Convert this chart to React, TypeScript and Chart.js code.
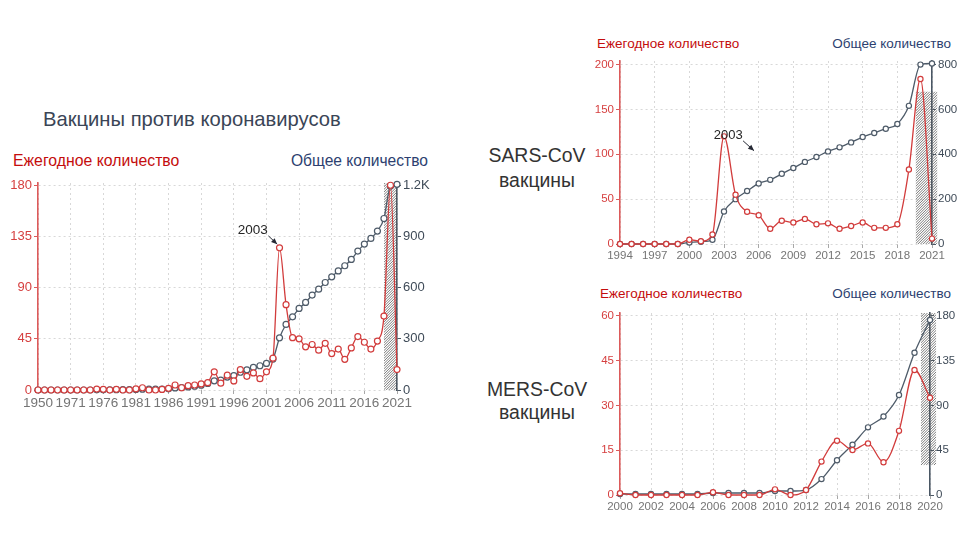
import React, { useEffect, useRef } from 'react';
import { Chart, registerables } from 'chart.js';

Chart.register(...registerables);

// ---------- data ----------
const allYears = ['1950', '1967', '1968', '1969', '1970', '1971', '1972', '1973', '1974', '1975', '1976', '1977', '1978', '1979', '1980', '1981', '1982', '1983', '1984', '1985', '1986', '1987', '1988', '1989', '1990', '1991', '1992', '1993', '1994', '1995', '1996', '1997', '1998', '1999', '2000', '2001', '2002', '2003', '2004', '2005', '2006', '2007', '2008', '2009', '2010', '2011', '2012', '2013', '2014', '2015', '2016', '2017', '2018', '2019', '2020', '2021'];
const allAnnual = [0, 0, 0, 0, 0, 0, 0, 0, 0, 0.8, 0.6, 0, 0.6, 0, 0, 1, 2, 0, 0, 0.5, 1.5, 4.4, 2, 3.8, 4.4, 5.3, 6.4, 16, 6, 13, 8, 18, 12, 15, 10, 16, 28, 125, 75, 46, 45, 38, 40, 35, 41, 32, 36, 27, 37, 47, 42, 36, 43, 65, 180, 18];
const allTotal = [0, 0, 0, 0, 0, 0, 0, 0, 0, 1, 1, 1, 2, 2, 2, 3, 5, 5, 5, 6, 7, 12, 14, 18, 22, 28, 38, 54, 58, 76, 84, 104, 118, 132, 142, 156, 181, 306, 384, 429, 478, 513, 556, 591, 630, 663, 698, 728, 765, 814, 855, 888, 931, 1005, 1195, 1205];
const allLeftTicks = [0, 45, 90, 135, 180];
const allRightTicks = [0, 300, 600, 900, 1200];

const sarsYears = ['1994', '1995', '1996', '1997', '1998', '1999', '2000', '2001', '2002', '2003', '2004', '2005', '2006', '2007', '2008', '2009', '2010', '2011', '2012', '2013', '2014', '2015', '2016', '2017', '2018', '2019', '2020', '2021'];
const sarsAnnual = [0, 0, 0, 0, 0, 0, 4.8, 3, 10.7, 120, 55, 36, 32, 17, 26, 24, 28, 22, 23, 17, 20, 24, 18, 18, 22, 83, 184, 6];
const sarsTotal = [0, 0, 0, 0, 0, 0, 7, 10, 19, 145, 200, 236, 270, 286, 313, 339, 366, 388, 413, 431, 453, 477, 495, 514, 535, 616, 800, 805];
const sarsLeftTicks = [0, 50, 100, 150, 200];
const sarsRightTicks = [0, 200, 400, 600, 800];

const mersYears = ['2000', '2001', '2002', '2003', '2004', '2005', '2006', '2007', '2008', '2009', '2010', '2011', '2012', '2013', '2014', '2015', '2016', '2017', '2018', '2019', '2020'];
const mersAnnual = [0.6, 0, 0, 0, 0, 0, 0.9, 0, 0, 0, 1.9, 0, 1.7, 11.2, 18.2, 15.1, 17.3, 11, 21.5, 41.9, 32.6];
const mersTotal = [1, 1, 1, 1, 1, 1, 2, 2, 2, 2, 4, 4, 5, 16, 35, 50.6, 68, 79, 100.6, 143, 176];
const mersLeftTicks = [0, 15, 30, 45, 60];
const mersRightTicks = [0, 45, 90, 135, 180];

// ---------- styles ----------
const FONT = "'Liberation Sans', Arial, Helvetica, sans-serif";
const RED_LINE = '#d23c3c';
const RED_AXIS = '#dc5a5a';
const RED_TICK = '#d64040';
const RED_TEXT = '#c40d0d';
const SLATE_LINE = '#4e5b69';
const SLATE_AXIS = '#4a5764';
const SLATE_TICK = '#3f4b58';
const NAVY_TEXT = '#2d3f70';
const GRID = '#d8d8d8';
const XTICK = '#757575';

type Cfg = {
  labels: string[];
  annual: number[];
  total: number[];
  step: number;
  lMax: number; lTicks: number[];
  rMax: number; rTicks: number[];
  rFmt?: (v: number) => string;
  padTop: number; lW: number; rW: number; xH: number;
  xFont: number; yFont: number;
  radius: number;
  hatch: { x0: number; x1: number; v0: number; v1: number | null };
  note: { tx: number; tv: number; ax0: number; av0: number; ax1: number; av1: number; font: number } | null;
};

function makePlugin(cfg: Cfg) {
  return {
    id: 'extras',
    beforeDatasetsDraw(chart: any) {
      const { ctx, chartArea } = chart;
      const xs = chart.scales.x;
      const yr = chart.scales.yR;
      const h = cfg.hatch;
      const left = xs.getPixelForValue(h.x0);
      const right = xs.getPixelForValue(h.x1);
      const bottom = yr.getPixelForValue(h.v0);
      const top = h.v1 === null ? chartArea.top : yr.getPixelForValue(h.v1);
      const H = bottom - top;
      ctx.save();
      ctx.beginPath();
      ctx.rect(left, top, right - left, H);
      ctx.clip();
      ctx.strokeStyle = '#5a5a5a';
      ctx.lineWidth = 0.8;
      ctx.beginPath();
      for (let k = left - H - 4; k < right + 4; k += 2.6) {
        ctx.moveTo(k, bottom);
        ctx.lineTo(k + H, top);
      }
      ctx.stroke();
      ctx.restore();
    },
    afterDatasetsDraw(chart: any) {
      const n = cfg.note;
      if (!n) return;
      const { ctx } = chart;
      const xs = chart.scales.x;
      const yl = chart.scales.yL;
      ctx.save();
      ctx.fillStyle = '#262626';
      ctx.font = `${n.font}px ${FONT}`;
      ctx.textAlign = 'center';
      ctx.textBaseline = 'middle';
      ctx.fillText('2003', xs.getPixelForValue(n.tx), yl.getPixelForValue(n.tv));
      const x0 = xs.getPixelForValue(n.ax0), y0 = yl.getPixelForValue(n.av0);
      const x1 = xs.getPixelForValue(n.ax1), y1 = yl.getPixelForValue(n.av1);
      ctx.strokeStyle = '#262a35';
      ctx.lineWidth = 1;
      ctx.beginPath();
      ctx.moveTo(x0, y0);
      ctx.lineTo(x1, y1);
      ctx.stroke();
      const ang = Math.atan2(y1 - y0, x1 - x0);
      const L = 6, W = 2.6;
      ctx.fillStyle = '#262a35';
      ctx.beginPath();
      ctx.moveTo(x1, y1);
      ctx.lineTo(x1 - L * Math.cos(ang) + W * Math.sin(ang), y1 - L * Math.sin(ang) - W * Math.cos(ang));
      ctx.lineTo(x1 - L * Math.cos(ang) - W * Math.sin(ang), y1 - L * Math.sin(ang) + W * Math.cos(ang));
      ctx.closePath();
      ctx.fill();
      ctx.restore();
    },
  };
}

function buildChart(canvas: HTMLCanvasElement, cfg: Cfg) {
  const yFont = { family: FONT, size: cfg.yFont };
  return new Chart(canvas, {
    type: 'line',
    data: {
      labels: cfg.labels,
      datasets: [
        {
          data: cfg.total,
          yAxisID: 'yR',
          borderColor: SLATE_LINE,
          borderWidth: 1.3,
          pointRadius: cfg.radius,
          pointBorderWidth: 1.2,
          pointBackgroundColor: '#ffffff',
          pointBorderColor: SLATE_LINE,
          cubicInterpolationMode: 'monotone',
          clip: false,
          order: 2,
        },
        {
          data: cfg.annual,
          yAxisID: 'yL',
          borderColor: RED_LINE,
          borderWidth: 1.3,
          pointRadius: cfg.radius,
          pointBorderWidth: 1.2,
          pointBackgroundColor: '#ffffff',
          pointBorderColor: RED_LINE,
          cubicInterpolationMode: 'monotone',
          clip: false,
          order: 1,
        },
      ],
    },
    options: {
      animation: false,
      responsive: false,
      maintainAspectRatio: false,
      events: [],
      layout: { padding: { top: cfg.padTop, left: 0, right: 0, bottom: 0 } },
      plugins: { legend: { display: false }, tooltip: { enabled: false }, title: { display: false } },
      scales: {
        x: {
          type: 'category',
          offset: false,
          grid: { color: GRID, lineWidth: 1, drawTicks: true, tickLength: 4, tickColor: '#a8a8a8' },
          border: { display: false, dash: [2, 3] },
          ticks: {
            autoSkip: false,
            maxRotation: 0,
            minRotation: 0,
            padding: 1,
            color: XTICK,
            font: { family: FONT, size: cfg.xFont },
            callback: (_v: any, i: number) => (i % cfg.step === 0 ? cfg.labels[i] : null),
          },
          afterFit: (s: any) => { s.height = cfg.xH; },
        },
        yL: {
          type: 'linear',
          position: 'left',
          min: 0,
          max: cfg.lMax,
          grid: { color: GRID, lineWidth: 1, drawTicks: true, tickLength: 4, tickColor: RED_AXIS },
          border: { display: true, color: RED_AXIS, width: 1.6, dash: [2, 3] },
          ticks: { color: RED_TICK, padding: 2, font: yFont },
          afterBuildTicks: (s: any) => { s.ticks = cfg.lTicks.map((v) => ({ value: v })); },
          afterFit: (s: any) => { s.width = cfg.lW; },
        },
        yR: {
          type: 'linear',
          position: 'right',
          min: 0,
          max: cfg.rMax,
          grid: { drawOnChartArea: false, drawTicks: true, tickLength: 4, tickColor: SLATE_AXIS },
          border: { display: true, color: SLATE_AXIS, width: 1.6 },
          ticks: {
            color: SLATE_TICK,
            padding: 2,
            font: yFont,
            callback: (v: any) => (cfg.rFmt ? cfg.rFmt(Number(v)) : String(v)),
          },
          afterBuildTicks: (s: any) => { s.ticks = cfg.rTicks.map((v) => ({ value: v })); },
          afterFit: (s: any) => { s.width = cfg.rW; },
        },
      },
    } as any,
    plugins: [makePlugin(cfg)],
  } as any);
}

const leftCfg: Cfg = {
  labels: allYears, annual: allAnnual, total: allTotal, step: 5,
  lMax: 182, lTicks: allLeftTicks, rMax: 1213, rTicks: allRightTicks,
  rFmt: (v) => (v === 1200 ? '1.2K' : String(v)),
  padTop: 13, lW: 38, rW: 43, xH: 25, xFont: 13.5, yFont: 13, radius: 3,
  hatch: { x0: 53, x1: 55, v0: 0, v1: null },
  note: { tx: 32.9, tv: 140, ax0: 35.3, av0: 135.5, ax1: 36.65, av1: 128.2, font: 13.5 },
};

const sarsCfg: Cfg = {
  labels: sarsYears, annual: sarsAnnual, total: sarsTotal, step: 3,
  lMax: 204, lTicks: sarsLeftTicks, rMax: 816, rTicks: sarsRightTicks,
  padTop: 11, lW: 60, rW: 36, xH: 26, xFont: 11.5, yFont: 11.5, radius: 2.6,
  hatch: { x0: 25.6, x1: 27.45, v0: 0, v1: 680 },
  note: { tx: 9.36, tv: 121.4, ax0: 10.65, av0: 115, ax1: 11.6, av1: 104, font: 13 },
};

const mersCfg: Cfg = {
  labels: mersYears, annual: mersAnnual, total: mersTotal, step: 2,
  lMax: 61, lTicks: mersLeftTicks, rMax: 183, rTicks: mersRightTicks,
  padTop: 13, lW: 60, rW: 38, xH: 25, xFont: 11.5, yFont: 11.5, radius: 2.6,
  hatch: { x0: 19.42, x1: 20.39, v0: 30, v1: null },
  note: null,
};

function ChartBox({ cfg, left, top, width, height }: { cfg: Cfg; left: number; top: number; width: number; height: number }) {
  const ref = useRef<HTMLCanvasElement | null>(null);
  useEffect(() => {
    if (!ref.current) return;
    const c = buildChart(ref.current, cfg);
    return () => c.destroy();
  }, [cfg]);
  return (
    <canvas
      ref={ref}
      width={width}
      height={height}
      style={{ position: 'absolute', left, top, width, height }}
    />
  );
}

const txt = (style: React.CSSProperties): React.CSSProperties => ({
  position: 'absolute',
  fontFamily: FONT,
  whiteSpace: 'nowrap',
  lineHeight: 1,
  transform: 'translateY(-50%)',
  ...style,
});

export default function App() {
  return (
    <div style={{ position: 'absolute', left: 0, top: 0, width: 968, height: 544, background: '#fff', overflow: 'hidden' }}>
      <div style={txt({ left: 43, top: 119, fontSize: 20.2, color: '#3a4556' })}>Вакцины против коронавирусов</div>
      <div style={txt({ left: 13, top: 161, fontSize: 15.8, color: RED_TEXT })}>Ежегодное количество</div>
      <div style={txt({ right: 968 - 428, top: 161, fontSize: 15.6, color: NAVY_TEXT })}>Общее количество</div>

      <div style={txt({ left: 597, top: 44, fontSize: 13.5, color: RED_TEXT })}>Ежегодное количество</div>
      <div style={txt({ right: 17, top: 44, fontSize: 13.5, color: NAVY_TEXT })}>Общее количество</div>
      <div style={txt({ left: 537, top: 156, fontSize: 19.4, color: '#333', transform: 'translate(-50%, -50%)' })}>SARS-CoV</div>
      <div style={txt({ left: 537, top: 181, fontSize: 19.4, color: '#333', transform: 'translate(-50%, -50%)' })}>вакцины</div>

      <div style={txt({ left: 600, top: 294, fontSize: 13.5, color: RED_TEXT })}>Ежегодное количество</div>
      <div style={txt({ right: 17, top: 294, fontSize: 13.5, color: NAVY_TEXT })}>Общее количество</div>
      <div style={txt({ left: 537, top: 390, fontSize: 19.4, color: '#333', transform: 'translate(-50%, -50%)' })}>MERS-CoV</div>
      <div style={txt({ left: 537, top: 413, fontSize: 19.4, color: '#333', transform: 'translate(-50%, -50%)' })}>вакцины</div>

      <ChartBox cfg={leftCfg} left={0} top={170} width={440} height={245} />
      <ChartBox cfg={sarsCfg} left={560} top={50} width={408} height={220} />
      <ChartBox cfg={mersCfg} left={560} top={300} width={408} height={220} />
    </div>
  );
}
